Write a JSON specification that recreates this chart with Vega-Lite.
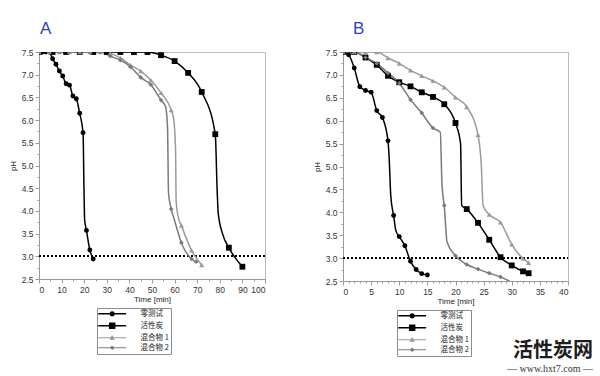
{
  "$schema": "https://vega.github.io/schema/vega-lite/v6.json",
  "padding": {"left": 8, "top": 19, "right": 5, "bottom": 2},
  "spacing": 46,
  "background": "white",
  "config": {
    "view": {"stroke": "#bbbbbb"},
    "axis": {"domainColor": "#9a9a9a", "tickColor": "#9a9a9a", "labelColor": "#333333", "titleColor": "#222222", "labelFontSize": 8.5, "titleFontSize": 8, "labelFont": "Liberation Sans", "titleFont": "Liberation Sans", "grid": false, "labelOverlap": false, "titleFontWeight": "normal", "labelPadding": 2},
    "legend": {"title": null, "orient": "none", "strokeColor": "#8c8c8c", "fillColor": "#ffffff", "strokeWidth": 1, "padding": 2, "rowPadding": 1, "labelFontSize": 7.5, "labelFont": "Noto Sans CJK SC", "labelColor": "#222222", "labelOffset": 34, "symbolSize": 81, "symbolStrokeWidth": 1.3, "labelExpr": "datum.label + '                '"}
  },
  "title": {"text": "活性炭网", "subtitle": "— www.hxt7.com —", "orient": "bottom", "anchor": "end", "font": "Noto Sans CJK SC", "fontSize": 20, "fontWeight": "bold", "color": "#1d1d1d", "subtitleFont": "Liberation Serif", "subtitleFontSize": 10, "subtitleColor": "#333333", "subtitlePadding": 3, "offset": -16, "dx": 24},
  "resolve": {"scale": {"color": "independent"}, "legend": {"color": "independent"}},
  "datasets": {
    "A": [
      {"s": "零测试", "t": 0, "pH": 7.5, "m": 1},
      {"s": "零测试", "t": 1.5, "pH": 7.5, "m": 1},
      {"s": "零测试", "t": 3, "pH": 7.5, "m": 1},
      {"s": "零测试", "t": 4.5, "pH": 7.5, "m": 1},
      {"s": "零测试", "t": 6, "pH": 7.35, "m": 1},
      {"s": "零测试", "t": 7.5, "pH": 7.23, "m": 1},
      {"s": "零测试", "t": 9, "pH": 7.08, "m": 1},
      {"s": "零测试", "t": 10.5, "pH": 6.97, "m": 1},
      {"s": "零测试", "t": 12, "pH": 6.8, "m": 1},
      {"s": "零测试", "t": 13.5, "pH": 6.77, "m": 1},
      {"s": "零测试", "t": 15, "pH": 6.53, "m": 1},
      {"s": "零测试", "t": 16.5, "pH": 6.47, "m": 1},
      {"s": "零测试", "t": 18, "pH": 6.15, "m": 1},
      {"s": "零测试", "t": 19.5, "pH": 5.72, "m": 1},
      {"s": "零测试", "t": 19.9, "pH": 4.5, "m": 0},
      {"s": "零测试", "t": 20.2, "pH": 3.8, "m": 0},
      {"s": "零测试", "t": 21, "pH": 3.57, "m": 1},
      {"s": "零测试", "t": 22.5, "pH": 3.14, "m": 1},
      {"s": "零测试", "t": 24, "pH": 2.94, "m": 1},
      {"s": "活性炭", "t": 0, "pH": 7.5, "m": 1},
      {"s": "活性炭", "t": 6, "pH": 7.5, "m": 1},
      {"s": "活性炭", "t": 12, "pH": 7.5, "m": 1},
      {"s": "活性炭", "t": 18, "pH": 7.5, "m": 1},
      {"s": "活性炭", "t": 24, "pH": 7.5, "m": 1},
      {"s": "活性炭", "t": 30, "pH": 7.5, "m": 1},
      {"s": "活性炭", "t": 36, "pH": 7.5, "m": 1},
      {"s": "活性炭", "t": 42, "pH": 7.5, "m": 1},
      {"s": "活性炭", "t": 48, "pH": 7.5, "m": 1},
      {"s": "活性炭", "t": 54, "pH": 7.43, "m": 1},
      {"s": "活性炭", "t": 60, "pH": 7.3, "m": 1},
      {"s": "活性炭", "t": 66, "pH": 7.04, "m": 1},
      {"s": "活性炭", "t": 72, "pH": 6.62, "m": 1},
      {"s": "活性炭", "t": 78, "pH": 5.69, "m": 1},
      {"s": "活性炭", "t": 78.8, "pH": 4.5, "m": 0},
      {"s": "活性炭", "t": 79.3, "pH": 3.95, "m": 0},
      {"s": "活性炭", "t": 81.2, "pH": 3.5, "m": 0},
      {"s": "活性炭", "t": 84, "pH": 3.19, "m": 1},
      {"s": "活性炭", "t": 90, "pH": 2.77, "m": 1},
      {"s": "混合物 1", "t": 0, "pH": 7.5, "m": 1},
      {"s": "混合物 1", "t": 4.5, "pH": 7.5, "m": 1},
      {"s": "混合物 1", "t": 9, "pH": 7.5, "m": 1},
      {"s": "混合物 1", "t": 13.5, "pH": 7.5, "m": 1},
      {"s": "混合物 1", "t": 18, "pH": 7.5, "m": 1},
      {"s": "混合物 1", "t": 22.5, "pH": 7.5, "m": 1},
      {"s": "混合物 1", "t": 27, "pH": 7.5, "m": 1},
      {"s": "混合物 1", "t": 31.5, "pH": 7.47, "m": 1},
      {"s": "混合物 1", "t": 36, "pH": 7.37, "m": 1},
      {"s": "混合物 1", "t": 40.5, "pH": 7.21, "m": 1},
      {"s": "混合物 1", "t": 45, "pH": 7.08, "m": 1},
      {"s": "混合物 1", "t": 49.5, "pH": 6.88, "m": 1},
      {"s": "混合物 1", "t": 54, "pH": 6.6, "m": 1},
      {"s": "混合物 1", "t": 58.5, "pH": 6.22, "m": 1},
      {"s": "混合物 1", "t": 59.6, "pH": 6.02, "m": 0},
      {"s": "混合物 1", "t": 60.4, "pH": 5.4, "m": 0},
      {"s": "混合物 1", "t": 60.7, "pH": 4.2, "m": 0},
      {"s": "混合物 1", "t": 61.6, "pH": 3.87, "m": 0},
      {"s": "混合物 1", "t": 63, "pH": 3.68, "m": 1},
      {"s": "混合物 1", "t": 67.5, "pH": 3.13, "m": 1},
      {"s": "混合物 1", "t": 72, "pH": 2.81, "m": 1},
      {"s": "混合物 2", "t": 0, "pH": 7.5, "m": 1},
      {"s": "混合物 2", "t": 4.5, "pH": 7.5, "m": 1},
      {"s": "混合物 2", "t": 9, "pH": 7.5, "m": 1},
      {"s": "混合物 2", "t": 13.5, "pH": 7.5, "m": 1},
      {"s": "混合物 2", "t": 18, "pH": 7.5, "m": 1},
      {"s": "混合物 2", "t": 22.5, "pH": 7.5, "m": 1},
      {"s": "混合物 2", "t": 27, "pH": 7.5, "m": 1},
      {"s": "混合物 2", "t": 31.5, "pH": 7.41, "m": 1},
      {"s": "混合物 2", "t": 36, "pH": 7.32, "m": 1},
      {"s": "混合物 2", "t": 40.5, "pH": 7.17, "m": 1},
      {"s": "混合物 2", "t": 45, "pH": 6.94, "m": 1},
      {"s": "混合物 2", "t": 49.5, "pH": 6.78, "m": 1},
      {"s": "混合物 2", "t": 54, "pH": 6.44, "m": 1},
      {"s": "混合物 2", "t": 56, "pH": 6.3, "m": 0},
      {"s": "混合物 2", "t": 56.9, "pH": 5.8, "m": 0},
      {"s": "混合物 2", "t": 57.3, "pH": 4.4, "m": 0},
      {"s": "混合物 2", "t": 58.5, "pH": 4.04, "m": 1},
      {"s": "混合物 2", "t": 59.7, "pH": 3.84, "m": 0},
      {"s": "混合物 2", "t": 63, "pH": 3.3, "m": 1},
      {"s": "混合物 2", "t": 67.5, "pH": 2.94, "m": 1},
      {"s": "混合物 2", "t": 69.5, "pH": 2.88, "m": 1}
    ],
    "B": [
      {"s": "零测试", "t": 0, "pH": 7.5, "m": 1},
      {"s": "零测试", "t": 1, "pH": 7.44, "m": 1},
      {"s": "零测试", "t": 2, "pH": 7.15, "m": 1},
      {"s": "零测试", "t": 3, "pH": 6.74, "m": 1},
      {"s": "零测试", "t": 4, "pH": 6.66, "m": 1},
      {"s": "零测试", "t": 5, "pH": 6.62, "m": 1},
      {"s": "零测试", "t": 6, "pH": 6.22, "m": 1},
      {"s": "零测试", "t": 7, "pH": 6.07, "m": 1},
      {"s": "零测试", "t": 8, "pH": 5.56, "m": 1},
      {"s": "零测试", "t": 8.2, "pH": 5.2, "m": 0},
      {"s": "零测试", "t": 8.5, "pH": 4.35, "m": 0},
      {"s": "零测试", "t": 9, "pH": 3.93, "m": 1},
      {"s": "零测试", "t": 9.4, "pH": 3.6, "m": 0},
      {"s": "零测试", "t": 10, "pH": 3.47, "m": 1},
      {"s": "零测试", "t": 11, "pH": 3.27, "m": 1},
      {"s": "零测试", "t": 12, "pH": 2.93, "m": 1},
      {"s": "零测试", "t": 13, "pH": 2.75, "m": 1},
      {"s": "零测试", "t": 14, "pH": 2.66, "m": 1},
      {"s": "零测试", "t": 15, "pH": 2.63, "m": 1},
      {"s": "活性炭", "t": 0, "pH": 7.5, "m": 1},
      {"s": "活性炭", "t": 2, "pH": 7.5, "m": 1},
      {"s": "活性炭", "t": 4, "pH": 7.38, "m": 1},
      {"s": "活性炭", "t": 6, "pH": 7.22, "m": 1},
      {"s": "活性炭", "t": 8, "pH": 6.98, "m": 1},
      {"s": "活性炭", "t": 10, "pH": 6.84, "m": 1},
      {"s": "活性炭", "t": 12, "pH": 6.75, "m": 1},
      {"s": "活性炭", "t": 14, "pH": 6.62, "m": 1},
      {"s": "活性炭", "t": 16, "pH": 6.52, "m": 1},
      {"s": "活性炭", "t": 18, "pH": 6.36, "m": 1},
      {"s": "活性炭", "t": 20, "pH": 5.95, "m": 1},
      {"s": "活性炭", "t": 20.9, "pH": 5.5, "m": 0},
      {"s": "活性炭", "t": 21.1, "pH": 4.15, "m": 0},
      {"s": "活性炭", "t": 22, "pH": 4.07, "m": 1},
      {"s": "活性炭", "t": 24, "pH": 3.77, "m": 1},
      {"s": "活性炭", "t": 26, "pH": 3.4, "m": 1},
      {"s": "活性炭", "t": 28, "pH": 3.02, "m": 1},
      {"s": "活性炭", "t": 30, "pH": 2.84, "m": 1},
      {"s": "活性炭", "t": 32, "pH": 2.71, "m": 1},
      {"s": "活性炭", "t": 33, "pH": 2.67, "m": 1},
      {"s": "混合物 1", "t": 0, "pH": 7.5, "m": 1},
      {"s": "混合物 1", "t": 2, "pH": 7.5, "m": 1},
      {"s": "混合物 1", "t": 4, "pH": 7.5, "m": 1},
      {"s": "混合物 1", "t": 6, "pH": 7.5, "m": 1},
      {"s": "混合物 1", "t": 8, "pH": 7.37, "m": 1},
      {"s": "混合物 1", "t": 10, "pH": 7.25, "m": 1},
      {"s": "混合物 1", "t": 12, "pH": 7.1, "m": 1},
      {"s": "混合物 1", "t": 14, "pH": 6.98, "m": 1},
      {"s": "混合物 1", "t": 16, "pH": 6.87, "m": 1},
      {"s": "混合物 1", "t": 18, "pH": 6.73, "m": 1},
      {"s": "混合物 1", "t": 20, "pH": 6.51, "m": 1},
      {"s": "混合物 1", "t": 22, "pH": 6.3, "m": 1},
      {"s": "混合物 1", "t": 24, "pH": 5.69, "m": 1},
      {"s": "混合物 1", "t": 24.6, "pH": 5.0, "m": 0},
      {"s": "混合物 1", "t": 24.9, "pH": 4.15, "m": 0},
      {"s": "混合物 1", "t": 26, "pH": 3.95, "m": 1},
      {"s": "混合物 1", "t": 28, "pH": 3.78, "m": 1},
      {"s": "混合物 1", "t": 30, "pH": 3.3, "m": 1},
      {"s": "混合物 1", "t": 32, "pH": 2.99, "m": 1},
      {"s": "混合物 1", "t": 33, "pH": 2.9, "m": 1},
      {"s": "混合物 2", "t": 0, "pH": 7.5, "m": 1},
      {"s": "混合物 2", "t": 2, "pH": 7.5, "m": 1},
      {"s": "混合物 2", "t": 4, "pH": 7.38, "m": 1},
      {"s": "混合物 2", "t": 6, "pH": 7.25, "m": 1},
      {"s": "混合物 2", "t": 8, "pH": 7.04, "m": 1},
      {"s": "混合物 2", "t": 10, "pH": 6.82, "m": 1},
      {"s": "混合物 2", "t": 12, "pH": 6.46, "m": 1},
      {"s": "混合物 2", "t": 14, "pH": 6.17, "m": 1},
      {"s": "混合物 2", "t": 16, "pH": 5.84, "m": 1},
      {"s": "混合物 2", "t": 17.3, "pH": 5.75, "m": 0},
      {"s": "混合物 2", "t": 17.6, "pH": 4.6, "m": 0},
      {"s": "混合物 2", "t": 18, "pH": 4.15, "m": 1},
      {"s": "混合物 2", "t": 18.5, "pH": 3.35, "m": 0},
      {"s": "混合物 2", "t": 20, "pH": 3.05, "m": 1},
      {"s": "混合物 2", "t": 22, "pH": 2.86, "m": 1},
      {"s": "混合物 2", "t": 24, "pH": 2.76, "m": 1},
      {"s": "混合物 2", "t": 26, "pH": 2.67, "m": 1},
      {"s": "混合物 2", "t": 28, "pH": 2.59, "m": 1},
      {"s": "混合物 2", "t": 30, "pH": 2.47, "m": 0}
    ]
  },
  "hconcat": [
    {
      "data": {"name": "A"},
      "width": 226,
      "height": 227,
      "title": {"text": "A", "anchor": "start", "frame": "group", "dx": 1, "fontSize": 17, "fontWeight": "normal", "color": "#3040c0", "font": "Liberation Sans", "offset": 10},
      "encoding": {
        "x": {"field": "t", "type": "quantitative", "scale": {"domain": [0, 100], "nice": false},
          "axis": {"title": "Time [min]", "titlePadding": 2, "values": [0,5,10,15,20,25,30,35,40,45,50,55,60,65,70,75,80,85,90,95,100], "labelExpr": "datum.value % 10 === 0 ? datum.label : ''", "tickSize": {"condition": {"test": "datum.value % 10 === 0", "value": 4}, "value": 2}}},
        "y": {"field": "pH", "type": "quantitative", "scale": {"domain": [2.5, 7.5], "nice": false, "zero": false},
          "axis": {"title": "pH", "titlePadding": 4, "format": ".1f", "values": [2.5,2.75,3,3.25,3.5,3.75,4,4.25,4.5,4.75,5,5.25,5.5,5.75,6,6.25,6.5,6.75,7,7.25,7.5], "labelExpr": "round(datum.value*100) % 50 === 0 ? datum.label : ''", "tickSize": {"condition": {"test": "round(datum.value*100) % 50 === 0", "value": 4}, "value": 2}}}
      },
      "layer": [
        {"mark": {"type": "rule", "strokeDash": [2, 2], "color": "#000000", "strokeWidth": 1}, "encoding": {"y": {"datum": 3}, "x": {"datum": 0}, "x2": {"datum": 100}}},
        {"mark": {"type": "line", "interpolate": "monotone", "clip": true},
          "encoding": {
            "order": {"field": "t", "type": "quantitative"},
            "strokeWidth": {"field": "s", "type": "nominal", "scale": {"domain": ["零测试", "活性炭", "混合物 1", "混合物 2"], "range": [1.5, 1.5, 1.1, 1.1]}, "legend": null},
            "color": {"field": "s", "type": "nominal", "scale": {"domain": ["零测试", "活性炭", "混合物 1", "混合物 2"], "range": ["#000000", "#000000", "#9a9a9a", "#7a7a7a"]},
              "legend": {"legendX": 58, "legendY": 256, "strokeColor": "#8c8c8c", "fillColor": "#ffffff",
                "encode": {
                  "legend": {"enter": {"stroke": {"value": "#8c8c8c"}, "strokeWidth": {"value": 1}}, "update": {"stroke": {"value": "#8c8c8c"}, "strokeWidth": {"value": 1}}},
                  "symbols": {"update": {
                  "shape": {"signal": "datum.value==='零测试' ? 'M-1,0H5.2M2.5,0A0.4,0.4,0,1,1,1.7,0A0.4,0.4,0,1,1,2.5,0Z' : datum.value==='活性炭' ? 'M-1,0H5.2M1.55,-0.55H2.65V0.55H1.55Z' : datum.value==='混合物 1' ? 'M-1,0H5.2M2.1,-0.45L2.55,0.35H1.65Z' : 'M-1,0H5.2M2.1,-0.4L2.5,0L2.1,0.4L1.7,0Z'"},
                  "fill": {"signal": "datum.value==='混合物 1' ? '#9a9a9a' : datum.value==='混合物 2' ? '#7a7a7a' : '#000000'"},
                  "stroke": {"signal": "datum.value==='混合物 1' ? '#9a9a9a' : datum.value==='混合物 2' ? '#7a7a7a' : '#000000'"},
                  "strokeWidth": {"signal": "datum.value==='混合物 1' || datum.value==='混合物 2' ? 1 : 1.5"},
                  "opacity": {"value": 1},
                  "fillOpacity": {"value": 1}
                }}}}}
          }},
        {"transform": [{"filter": "datum.m == 1 && datum.s === '零测试'"}], "mark": {"type": "point", "shape": "circle", "filled": true, "opacity": 1, "color": "#000000", "size": 24, "clip": true}},
        {"transform": [{"filter": "datum.m == 1 && datum.s === '活性炭'"}], "mark": {"type": "point", "shape": "square", "filled": true, "opacity": 1, "color": "#000000", "size": 34, "clip": true}},
        {"transform": [{"filter": "datum.m == 1 && datum.s === '混合物 1'"}], "mark": {"type": "point", "shape": "triangle-up", "filled": true, "opacity": 1, "color": "#9a9a9a", "size": 26, "clip": true}},
        {"transform": [{"filter": "datum.m == 1 && datum.s === '混合物 2'"}], "mark": {"type": "point", "shape": "diamond", "filled": true, "opacity": 1, "color": "#7a7a7a", "size": 22, "clip": true}}
      ]
    },
    {
      "data": {"name": "B"},
      "width": 225,
      "height": 229,
      "title": {"text": "B", "anchor": "start", "frame": "group", "dx": 10, "fontSize": 17, "fontWeight": "normal", "color": "#3040c0", "font": "Liberation Sans", "offset": 10},
      "encoding": {
        "x": {"field": "t", "type": "quantitative", "scale": {"domain": [0, 40], "nice": false},
          "axis": {"title": "Time [min]", "titlePadding": 2, "values": [0,1,2,3,4,5,6,7,8,9,10,11,12,13,14,15,16,17,18,19,20,21,22,23,24,25,26,27,28,29,30,31,32,33,34,35,36,37,38,39,40], "labelExpr": "datum.value % 5 === 0 ? datum.label : ''", "tickSize": {"condition": {"test": "datum.value % 5 === 0", "value": 4}, "value": 2}}},
        "y": {"field": "pH", "type": "quantitative", "scale": {"domain": [2.5, 7.5], "nice": false, "zero": false},
          "axis": {"title": "pH", "titlePadding": 4, "format": ".1f", "values": [2.5,2.75,3,3.25,3.5,3.75,4,4.25,4.5,4.75,5,5.25,5.5,5.75,6,6.25,6.5,6.75,7,7.25,7.5], "labelExpr": "round(datum.value*100) % 50 === 0 ? datum.label : ''", "tickSize": {"condition": {"test": "round(datum.value*100) % 50 === 0", "value": 4}, "value": 2}}}
      },
      "layer": [
        {"mark": {"type": "rule", "strokeDash": [2, 2], "color": "#000000", "strokeWidth": 1}, "encoding": {"y": {"datum": 3}, "x": {"datum": 0}, "x2": {"datum": 40}}},
        {"mark": {"type": "line", "interpolate": "monotone", "clip": true},
          "encoding": {
            "order": {"field": "t", "type": "quantitative"},
            "strokeWidth": {"field": "s", "type": "nominal", "scale": {"domain": ["零测试", "活性炭", "混合物 1", "混合物 2"], "range": [1.5, 1.5, 1.1, 1.1]}, "legend": null},
            "color": {"field": "s", "type": "nominal", "scale": {"domain": ["零测试", "活性炭", "混合物 1", "混合物 2"], "range": ["#000000", "#000000", "#9a9a9a", "#7a7a7a"]},
              "legend": {"legendX": 54, "legendY": 258, "strokeColor": "#8c8c8c", "fillColor": "#ffffff",
                "encode": {
                  "legend": {"enter": {"stroke": {"value": "#8c8c8c"}, "strokeWidth": {"value": 1}}, "update": {"stroke": {"value": "#8c8c8c"}, "strokeWidth": {"value": 1}}},
                  "symbols": {"update": {
                  "shape": {"signal": "datum.value==='零测试' ? 'M-1,0H5.2M2.5,0A0.4,0.4,0,1,1,1.7,0A0.4,0.4,0,1,1,2.5,0Z' : datum.value==='活性炭' ? 'M-1,0H5.2M1.55,-0.55H2.65V0.55H1.55Z' : datum.value==='混合物 1' ? 'M-1,0H5.2M2.1,-0.45L2.55,0.35H1.65Z' : 'M-1,0H5.2M2.1,-0.4L2.5,0L2.1,0.4L1.7,0Z'"},
                  "fill": {"signal": "datum.value==='混合物 1' ? '#9a9a9a' : datum.value==='混合物 2' ? '#7a7a7a' : '#000000'"},
                  "stroke": {"signal": "datum.value==='混合物 1' ? '#9a9a9a' : datum.value==='混合物 2' ? '#7a7a7a' : '#000000'"},
                  "strokeWidth": {"signal": "datum.value==='混合物 1' || datum.value==='混合物 2' ? 1 : 1.5"},
                  "opacity": {"value": 1},
                  "fillOpacity": {"value": 1}
                }}}}}
          }},
        {"transform": [{"filter": "datum.m == 1 && datum.s === '零测试'"}], "mark": {"type": "point", "shape": "circle", "filled": true, "opacity": 1, "color": "#000000", "size": 24, "clip": true}},
        {"transform": [{"filter": "datum.m == 1 && datum.s === '活性炭'"}], "mark": {"type": "point", "shape": "square", "filled": true, "opacity": 1, "color": "#000000", "size": 34, "clip": true}},
        {"transform": [{"filter": "datum.m == 1 && datum.s === '混合物 1'"}], "mark": {"type": "point", "shape": "triangle-up", "filled": true, "opacity": 1, "color": "#9a9a9a", "size": 26, "clip": true}},
        {"transform": [{"filter": "datum.m == 1 && datum.s === '混合物 2'"}], "mark": {"type": "point", "shape": "diamond", "filled": true, "opacity": 1, "color": "#7a7a7a", "size": 22, "clip": true}}
      ]
    }
  ]
}
